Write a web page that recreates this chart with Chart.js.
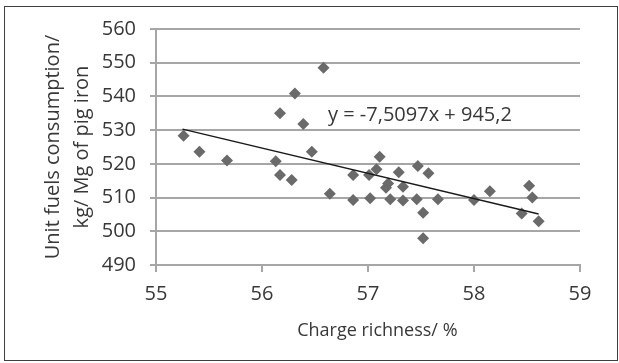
<!DOCTYPE html>
<html>
<head>
<meta charset="utf-8">
<script src="https://cdn.jsdelivr.net/npm/chart.js@4/dist/chart.umd.min.js"></script>
<style>
  html, body { margin: 0; padding: 0; background: #ffffff; }
  #wrap { position: relative; width: 619px; height: 363px; }
  #c { position: absolute; left: 0; top: 0; }
  #frame { position: absolute; left: 4px; top: 6px; width: 614px; height: 355px;
           border: 1.5px solid #404040; box-sizing: border-box; pointer-events: none; }
</style>
</head>
<body>
<div id="wrap">
  <canvas id="c" width="619" height="363"></canvas>
  <div id="frame"></div>
</div>
<script>
// ---- data ----
const chargeRichness = [55.26, 55.41, 55.67, 56.13, 56.17, 56.31, 56.39, 56.47, 56.58, 56.17,
                        56.28, 56.64, 56.86, 56.86, 57.11, 57.01, 57.08, 57.02, 57.29, 57.47,
                        57.57, 57.19, 57.17, 57.33, 57.21, 57.33, 57.46, 57.52, 57.52, 57.66,
                        58.00, 58.15, 58.52, 58.55, 58.45, 58.61];
const fuelConsumption = [528.3, 523.6, 521.0, 520.8, 535.0, 540.9, 531.8, 523.6, 548.5, 516.7,
                         515.2, 511.1, 516.7, 509.3, 522.1, 516.7, 518.4, 509.8, 517.5, 519.4,
                         517.2, 514.2, 512.9, 513.2, 509.5, 509.1, 509.5, 505.5, 497.9, 509.5,
                         509.3, 511.9, 513.5, 510.0, 505.3, 503.0];
const trendX = [55.25, 58.61];
const trendY = [530.3, 505.1];
const trendLabel = 'y = -7,5097x + 945,2';
const trendLabelPos = [57.49, 534.5];
const xTitle = '    Charge richness/ %';
const yTitle = ['Unit fuels consumption/', 'kg/ Mg of pig iron'];

const GRID = '#a6a6a6';
const TEXT = '#383838';
Chart.defaults.font.family = "'Open Sans', sans-serif";
Chart.defaults.color = TEXT;

const labelPlugin = {
  id: 'trendLabel',
  afterDatasetsDraw(chart) {
    const {ctx, scales} = chart;
    const px = scales.x.getPixelForValue(trendLabelPos[0]);
    const py = scales.y.getPixelForValue(trendLabelPos[1]);
    ctx.save();
    ctx.font = "20px 'Open Sans', sans-serif";
    ctx.fillStyle = TEXT;
    ctx.textAlign = 'center';
    ctx.textBaseline = 'middle';
    ctx.fillText(trendLabel, px, py);
    ctx.restore();
  }
};

new Chart(document.getElementById('c'), {
  type: 'scatter',
  data: {
    datasets: [
      {
        label: 'data',
        data: chargeRichness.map((x, i) => ({x, y: fuelConsumption[i]})),
        pointStyle: 'rectRot',
        pointRadius: 6,
        backgroundColor: '#6a6a6a',
        borderColor: '#6a6a6a',
        borderWidth: 0,
        order: 2
      },
      {
        type: 'line',
        label: 'trend',
        data: trendX.map((x, i) => ({x, y: trendY[i]})),
        borderColor: '#1a1a1a',
        borderWidth: 1.5,
        pointRadius: 0,
        fill: false,
        order: 1
      }
    ]
  },
  options: {
    responsive: false,
    animation: false,
    events: [],
    layout: { padding: { left: 5, top: 29, right: 39, bottom: 3 } },
    plugins: { legend: { display: false }, tooltip: { enabled: false } },
    scales: {
      x: {
        type: 'linear', min: 55, max: 59,
        afterFit: s => { s.height = 95; },
        ticks: { stepSize: 1, font: { size: 20 }, color: TEXT, padding: 10 },
        grid: { drawOnChartArea: false, drawTicks: true, tickLength: 7, color: GRID, lineWidth: 2 },
        border: { display: true, color: GRID, width: 2 },
        title: { display: true, text: xTitle, font: { size: 18 }, color: TEXT,
                 padding: { top: 0, bottom: 18 } }
      },
      y: {
        min: 490, max: 560,
        afterFit: s => { s.width = 151; },
        ticks: { stepSize: 10, font: { size: 20 }, color: TEXT, padding: 14 },
        grid: { drawTicks: true, tickLength: 6, color: GRID, lineWidth: 2 },
        border: { display: true, color: GRID, width: 2 },
        title: { display: true, text: yTitle, font: { size: 20, lineHeight: 1.45 }, color: TEXT,
                 padding: { top: 34, bottom: 0 } }
      }
    }
  },
  plugins: [labelPlugin]
});
</script>
</body>
</html>
